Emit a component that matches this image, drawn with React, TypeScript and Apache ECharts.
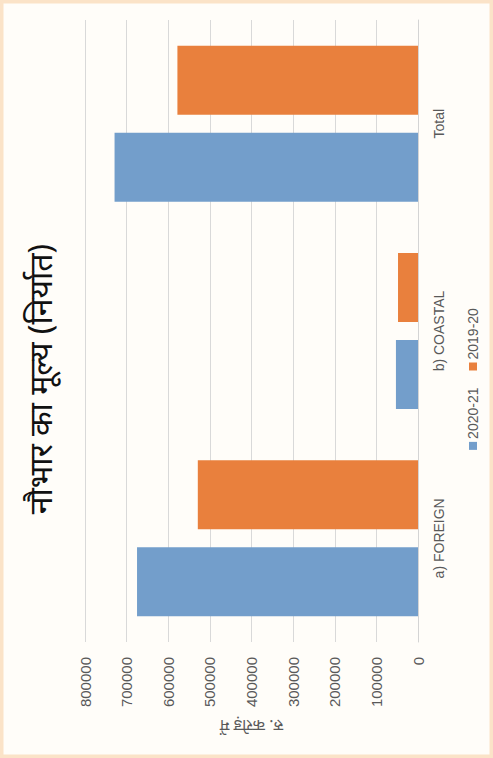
import React, { useEffect, useRef } from "react";
import * as echarts from "echarts";

const titleText = "नौभार का मूल्य (निर्यात)";
const axisName = "रु. करोड़ में";
const categories = ["a) FOREIGN", "b) COASTAL", "Total"];
const seriesNames = ["2020-21", "2019-20"];
const values2020_21 = [675000, 53000, 729000];
const values2019_20 = [529000, 48000, 578000];
const axisMin = 0;
const axisMax = 800000;
const axisStep = 100000;

const W = 758;
const H = 493;

export default function App() {
  const ref = useRef<HTMLDivElement>(null);
  useEffect(() => {
    if (!ref.current) return;
    const chart = echarts.init(ref.current, undefined, { renderer: "svg" });
    const font = "'Liberation Sans', 'Noto Sans', 'Noto Sans Devanagari', sans-serif";
    const deva = "'Noto Sans', 'Noto Sans Devanagari', sans-serif";
    chart.setOption({
      animation: false,
      backgroundColor: "#fffdf9",
      textStyle: { fontFamily: font },
      title: {
        text: titleText,
        left: "center",
        top: 18,
        textStyle: { fontSize: 32, fontWeight: "normal", color: "#111111", fontFamily: deva },
      },
      graphic: [
        {
          type: "rect",
          shape: { x: 1.5, y: 1.5, width: W - 3, height: H - 3 },
          style: { fill: "none", stroke: "#fbe3c8", lineWidth: 4 },
          silent: true,
        },
      ],
      legend: {
        data: seriesNames,
        left: "center",
        top: 466,
        padding: 0,
        itemWidth: 8,
        itemHeight: 8,
        itemGap: 17,
        icon: "rect",
        textStyle: { fontSize: 14, color: "#595959", padding: [0, 0, 0, -2] },
      },
      grid: { left: 116, right: 20, top: 85, bottom: 75, containLabel: false },
      xAxis: {
        type: "category",
        data: categories,
        axisLine: { show: true, lineStyle: { color: "#d4d4d4", width: 1 } },
        axisTick: { show: false },
        axisLabel: { fontSize: 14, color: "#595959", margin: 14 },
      },
      yAxis: {
        type: "value",
        min: axisMin,
        max: axisMax,
        interval: axisStep,
        name: axisName,
        nameLocation: "middle",
        nameGap: 74,
        nameTextStyle: { fontSize: 16, color: "#595959", fontFamily: deva },
        axisLine: { show: false },
        axisTick: { show: false },
        splitLine: { lineStyle: { color: "#d9d9d9", width: 1 } },
        axisLabel: {
          fontSize: 15,
          color: "#595959",
          margin: 15,
          formatter: (v: number) => String(v),
        },
      },
      series: [
        {
          name: seriesNames[0],
          type: "bar",
          data: values2020_21,
          barWidth: 69,
          barGap: "26%",
          itemStyle: { color: "#739ecb" },
        },
        {
          name: seriesNames[1],
          type: "bar",
          data: values2019_20,
          barWidth: 69,
          itemStyle: { color: "#e9803d" },
        },
      ],
    });
    return () => chart.dispose();
  }, []);

  return (
    <div
      style={{
        position: "fixed",
        left: 0,
        top: 0,
        width: H,
        height: W,
        overflow: "hidden",
        background: "#fffdf9",
      }}
    >
      <div
        ref={ref}
        style={{
          position: "absolute",
          left: 0,
          top: 0,
          width: W,
          height: H,
          transformOrigin: "0 0",
          transform: `translateY(${W}px) rotate(-90deg)`,
        }}
      />
    </div>
  );
}
